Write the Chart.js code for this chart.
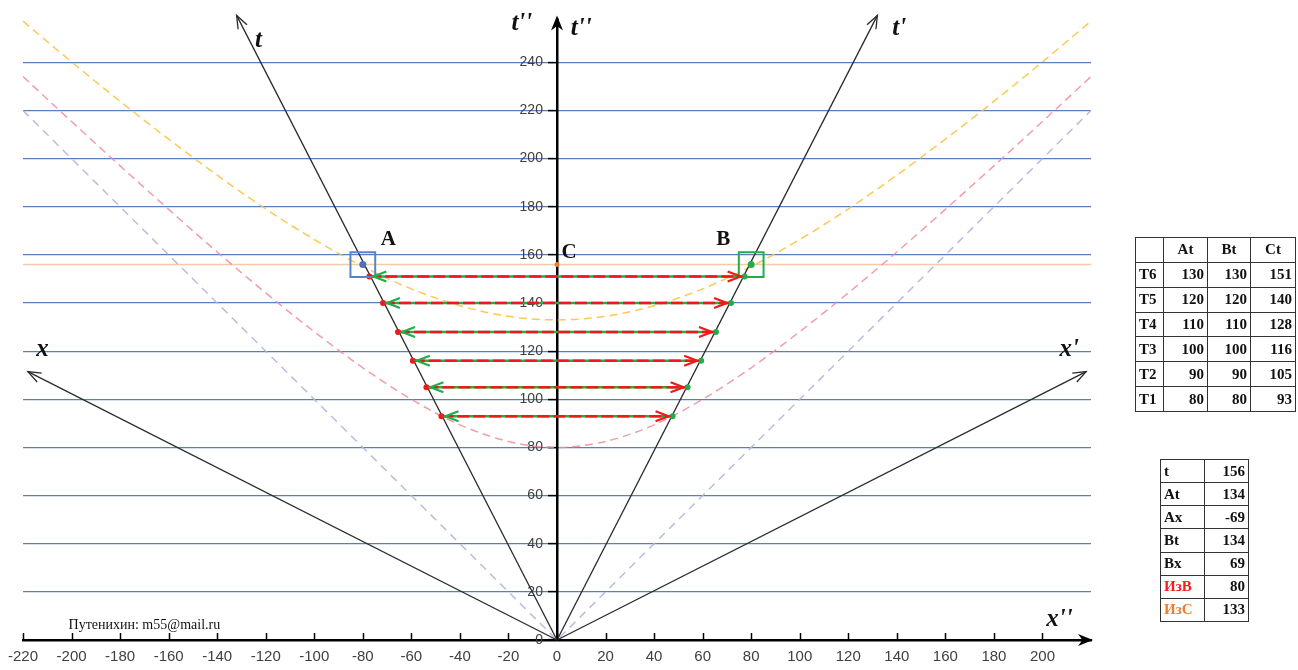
<!DOCTYPE html>
<html><head><meta charset="utf-8">
<script src="https://cdn.jsdelivr.net/npm/chart.js@4.4.1/dist/chart.umd.min.js"></script>
<style>
html,body{margin:0;padding:0;background:#fff;}
#wrap{position:relative;width:1298px;height:670px;overflow:hidden;background:#fff;}
canvas{position:absolute;left:0;top:0;}
table{position:absolute;border-collapse:collapse;table-layout:fixed;font-family:"Liberation Serif","Times New Roman",serif;font-weight:bold;font-size:15px;color:#111;}
td{border:1px solid #333;padding:0 3px;text-align:right;white-space:nowrap;}
td.l{text-align:left;}
td.c{text-align:center;}
#t1{left:1135px;top:237px;width:160px;height:175px;}
#t2{left:1160px;top:459px;width:88px;height:163px;}
</style></head>
<body><div id="wrap"><canvas id="c" width="1298" height="670"></canvas>
<table id="t1"></table><table id="t2"></table></div>
<script>
// ---- data ----
const xTicks = [-220,-200,-180,-160,-140,-120,-100,-80,-60,-40,-20,0,20,40,60,80,100,120,140,160,180,200];
const yTicks = [0,20,40,60,80,100,120,140,160,180,200,220,240];
const hypX = [-220,-200,-180,-160,-140,-120,-100,-80,-60,-40,-20,0,20,40,60,80,100,120,140,160,180,200,220];
const redHyp = [234.1,215.4,197.0,178.9,161.2,144.2,128.1,113.1,100.0,89.4,82.5,80.0,82.5,89.4,100.0,113.1,128.1,144.2,161.2,178.9,197.0,215.4,234.1];
const yellowHyp = [257.1,240.2,223.8,208.1,193.1,179.1,166.4,155.2,145.9,138.9,134.5,133.0,134.5,138.9,145.9,155.2,166.4,179.1,193.1,208.1,223.8,240.2,257.1];
const coneX = [-220,0,220];
const coneT = [220,0,220];
const tAxis  = [[0,0],[-132,259.5]];
const tpAxis = [[0,0],[132,259.5]];
const xAxis  = [[0,0],[-218,111.5]];
const xpAxis = [[0,0],[218,111.5]];
const rowNames = ['T6','T5','T4','T3','T2','T1'];
const At = [130,120,110,100,90,80];
const Bt = [130,120,110,100,90,80];
const Ct = [151,140,128,116,105,93];
const arrowHalf = [77.3,71.7,65.5,59.4,53.8,47.6];
const eventT = 156;
const pointA = [-80,156];
const pointB = [80,156];
const pointC = [0,156];
const sumLabels = ['t','At','Ax','Bt','Bx','ИзВ','ИзС'];
const sumValues = [156,134,-69,134,69,80,133];

// ---- tables ----
(function(){
  let h = '<colgroup><col style="width:28px"><col style="width:44px"><col style="width:43px"><col style="width:45px"></colgroup>';
  h += '<tr><td></td><td class="c">At</td><td class="c">Bt</td><td class="c">Ct</td></tr>';
  rowNames.forEach((r,i)=>{ h += `<tr><td class="l">${r}</td><td>${At[i]}</td><td>${Bt[i]}</td><td>${Ct[i]}</td></tr>`; });
  document.getElementById('t1').innerHTML = h;
  const colors = {'ИзВ':'#ff1a1a','ИзС':'#ed7d31'};
  let g = '<colgroup><col style="width:44px"><col style="width:44px"></colgroup>';
  sumLabels.forEach((l,i)=>{ g += `<tr><td class="l" style="color:${colors[l]||'#111'}">${l}</td><td>${sumValues[i]}</td></tr>`; });
  document.getElementById('t2').innerHTML = g;
})();

// ---- datasets ----
const pts = (xs, ys) => xs.map((x,i)=>({x, y: ys[i]}));
const seg = a => a.map(p=>({x:p[0], y:p[1]}));
const datasets = [];
datasets.push({data:[{x:-220,y:eventT},{x:220,y:eventT}], borderColor:'#f8c9a6', borderWidth:1.5, pointRadius:0, showLine:true, order:12});
datasets.push({data:pts(coneX,coneT), borderColor:'rgba(180,180,220,0.9)', borderDash:[8,6], borderWidth:1.5, pointRadius:0, showLine:true, order:11});
datasets.push({data:pts(hypX,redHyp), borderColor:'rgba(238,140,155,0.85)', borderDash:[8,5], borderWidth:1.5, pointRadius:0, showLine:true, cubicInterpolationMode:'monotone', order:10});
datasets.push({data:pts(hypX,yellowHyp), borderColor:'rgba(250,195,70,0.9)', borderDash:[8,5], borderWidth:1.5, pointRadius:0, showLine:true, cubicInterpolationMode:'monotone', clip:false, order:10});
[tAxis,tpAxis,xAxis,xpAxis].forEach(a=>datasets.push({data:seg(a), borderColor:'#2a2a2a', borderWidth:1.3, pointRadius:0, showLine:true, clip:false, order:9}));
Ct.forEach((t,i)=>{
  const d = [{x:-arrowHalf[i],y:t},{x:arrowHalf[i],y:t}];
  datasets.push({data:d, borderColor:'#1fae4a', borderWidth:2.5, pointRadius:0, showLine:true, order:6});
  datasets.push({data:d, borderColor:'#f01818', borderWidth:2.5, borderDash:[12,4], pointRadius:0, showLine:true, order:5});
});
datasets.push({data:Ct.map((t,i)=>({x:-arrowHalf[i],y:t})), showLine:false, pointRadius:3, pointBackgroundColor:'#f01818', pointBorderWidth:0, order:2});
datasets.push({data:Ct.map((t,i)=>({x:arrowHalf[i],y:t})), showLine:false, pointRadius:3, pointBackgroundColor:'#1fae4a', pointBorderWidth:0, order:2});
datasets.push({data:[{x:pointA[0],y:pointA[1]}], showLine:false, pointRadius:3.5, pointBackgroundColor:'#4a72c0', pointBorderWidth:0, order:1});
datasets.push({data:[{x:pointB[0],y:pointB[1]}], showLine:false, pointRadius:3.5, pointBackgroundColor:'#1fae4a', pointBorderWidth:0, order:1});
datasets.push({data:[{x:pointC[0],y:pointC[1]}], showLine:false, pointRadius:2.5, pointBackgroundColor:'#ed7d31', pointBorderWidth:0, order:1});
datasets.push({data:[{x:pointA[0],y:pointA[1]}], showLine:false, pointStyle:'rect', pointRadius:17.5, pointBackgroundColor:'rgba(0,0,0,0)', pointBorderColor:'#5585c8', pointBorderWidth:2, order:1});
datasets.push({data:[{x:pointB[0],y:pointB[1]}], showLine:false, pointStyle:'rect', pointRadius:17.5, pointBackgroundColor:'rgba(0,0,0,0)', pointBorderColor:'#1fae4a', pointBorderWidth:2, order:1});

// ---- overlay: arrowheads and labels ----
function chevron(ctx, x0,y0,x1,y1,L,W,color,lw){
  const dx=x1-x0, dy=y1-y0, len=Math.hypot(dx,dy), ux=dx/len, uy=dy/len, nx=-uy, ny=ux;
  ctx.beginPath();
  ctx.moveTo(x1-ux*L+nx*W, y1-uy*L+ny*W);
  ctx.lineTo(x1,y1);
  ctx.lineTo(x1-ux*L-nx*W, y1-uy*L-ny*W);
  ctx.strokeStyle=color; ctx.lineWidth=lw; ctx.stroke();
}
function filledArrow(ctx, x0,y0,x1,y1,L,W,color){
  const dx=x1-x0, dy=y1-y0, len=Math.hypot(dx,dy), ux=dx/len, uy=dy/len, nx=-uy, ny=ux;
  ctx.beginPath();
  ctx.moveTo(x1,y1);
  ctx.lineTo(x1-ux*L+nx*W, y1-uy*L+ny*W);
  ctx.lineTo(x1-ux*L*0.7, y1-uy*L*0.7);
  ctx.lineTo(x1-ux*L-nx*W, y1-uy*L-ny*W);
  ctx.closePath(); ctx.fillStyle=color; ctx.fill();
}
const AX = 'italic bold 25px "Liberation Serif"';
const labels = [
  {t:"t",   x:-123, y:249, f:AX},
  {t:"t'",  x:141,  y:254, f:AX},
  {t:"t''", x:-14.5,y:256, f:AX},
  {t:"t''", x:10,   y:254, f:AX},
  {t:"x",   x:-212, y:120.5, f:AX},
  {t:"x'",  x:211,  y:120.5, f:AX},
  {t:"x''", x:207,  y:8.5, f:AX},
  {t:'A',  x:-69.5,y:166.5, f:'bold 21px "Liberation Serif"'},
  {t:'B',  x:68.5, y:166.5, f:'bold 21px "Liberation Serif"'},
  {t:'C',  x:5,    y:161, f:'bold 21px "Liberation Serif"'},
  {t:'Путенихин: m55@mail.ru', x:-170, y:6.3, f:'14px "Liberation Serif"'}
];
const overlay = {
  id:'overlay',
  afterDatasetsDraw(chart){
    const {ctx, scales:{x, y}} = chart;
    const X=v=>x.getPixelForValue(v), Y=v=>y.getPixelForValue(v);
    ctx.save();
    ctx.strokeStyle='#000'; ctx.lineWidth=1.5;
    xTicks.forEach(v=>{ const px=Math.round(X(v))+0.5; ctx.beginPath(); ctx.moveTo(px, Y(0)); ctx.lineTo(px, Y(0)-7); ctx.stroke(); });
    [tAxis,tpAxis,xAxis,xpAxis].forEach(a=>chevron(ctx,X(a[0][0]),Y(a[0][1]),X(a[1][0]),Y(a[1][1]),13,5,'#2a2a2a',1.3));
    filledArrow(ctx, X(0),Y(0), X(0),Y(259.5), 15,6,'#000');
    filledArrow(ctx, X(0),Y(0), X(220)+2,Y(0), 15,6,'#000');
    Ct.forEach((t,i)=>{
      const xl=X(-arrowHalf[i]), xr=X(arrowHalf[i]), yy=Y(t);
      chevron(ctx, xr, yy, xl+4, yy, 13, 5, '#1fae4a', 2.2);
      chevron(ctx, xl, yy, xr-4, yy, 13, 5, '#f01818', 2.2);
    });
    ctx.textAlign='center'; ctx.textBaseline='middle'; ctx.fillStyle='#111';
    labels.forEach(l=>{ ctx.font=l.f; ctx.fillText(l.t, X(l.x), Y(l.y)); });
    ctx.restore();
  }
};

const yFit = s=>{ s.width = 0; };
const yBuild = s=>{ s.ticks = yTicks.map(v=>({value:v})); };
new Chart(document.getElementById('c'), {
  type:'scatter',
  data:{datasets},
  plugins:[overlay],
  options:{
    responsive:false, animation:false, events:[],
    layout:{padding:{left:23,right:207,top:15,bottom:0}},
    plugins:{legend:{display:false}, tooltip:{enabled:false}},
    elements:{line:{tension:0}},
    scales:{
      x:{type:'linear', position:'bottom', min:-220, max:220,
        afterBuildTicks:s=>{ s.ticks = xTicks.map(v=>({value:v})); },
        afterFit:s=>{ s.height = 30; },
        grid:{display:true, drawOnChartArea:false, drawTicks:false, tickLength:0},
        border:{display:true, color:'#000', width:2.5},
        ticks:{font:{family:'"Liberation Sans"', size:15}, color:'#404040', padding:8, maxRotation:0, autoSkip:false}
      },
      y:{type:'linear', position:{x:0}, min:0, max:257.8,
        afterBuildTicks:yBuild, afterFit:yFit,
        grid:{color:'#5a7fb8', lineWidth:1.2, tickColor:'#000', tickLength:8, tickWidth:1.5},
        border:{display:true, color:'#000', width:2.5},
        ticks:{display:false}
      },
      yl:{type:'linear', position:{x:-5.8}, min:0, max:257.8,
        afterBuildTicks:yBuild, afterFit:yFit,
        grid:{display:false, drawTicks:false},
        border:{display:false},
        ticks:{font:{family:'"Liberation Sans"', size:14}, color:'#404040', padding:0, autoSkip:false}
      }
    }
  }
});
</script>
</body></html>
